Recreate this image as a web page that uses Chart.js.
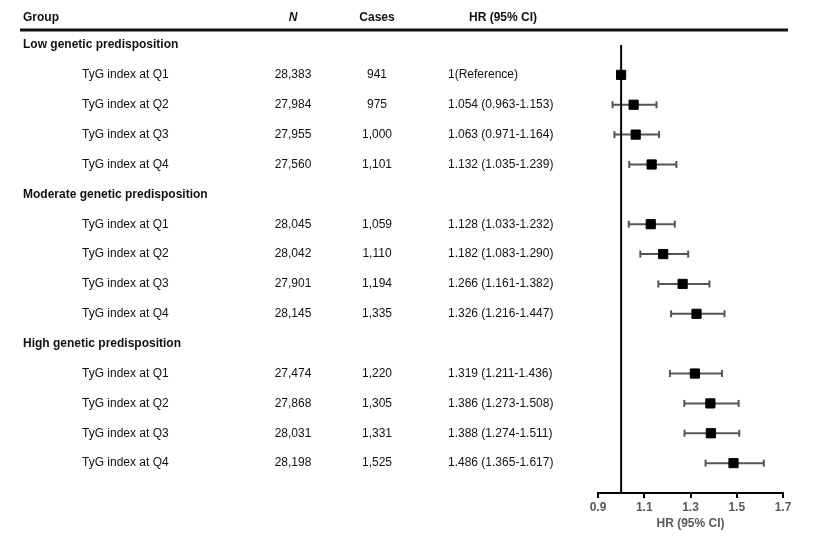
<!DOCTYPE html>
<html>
<head>
<meta charset="utf-8">
<script src="https://cdn.jsdelivr.net/npm/chart.js@4/dist/chart.umd.min.js"></script>
<style>
  body { margin: 0; background: #fff; }
  #wrap { width: 826px; height: 536px; }
</style>
</head>
<body>
<div id="wrap"><canvas id="forest" width="826" height="536"></canvas></div>
<script>
// table data
var groups = ["Low genetic predisposition", "Moderate genetic predisposition", "High genetic predisposition"];
var quartiles = ["TyG index at Q1", "TyG index at Q2", "TyG index at Q3", "TyG index at Q4"];
var nValues = ["28,383", "27,984", "27,955", "27,560", "28,045", "28,042", "27,901", "28,145", "27,474", "27,868", "28,031", "28,198"];
var cases = ["941", "975", "1,000", "1,101", "1,059", "1,110", "1,194", "1,335", "1,220", "1,305", "1,331", "1,525"];
var hr = [1, 1.054, 1.063, 1.132, 1.128, 1.182, 1.266, 1.326, 1.319, 1.386, 1.388, 1.486];
var ciLow = [null, 0.963, 0.971, 1.035, 1.033, 1.083, 1.161, 1.216, 1.211, 1.273, 1.274, 1.365];
var ciHigh = [null, 1.153, 1.164, 1.239, 1.232, 1.290, 1.382, 1.447, 1.436, 1.508, 1.511, 1.617];
var xTicks = [0.9, 1.1, 1.3, 1.5, 1.7];
var headers = ["Group", "N", "Cases", "HR (95% CI)"];

// row index on the y scale: group title then its 4 quartiles
function rowOf(i) {
  var g = Math.floor(i / 4);
  return g * 5 + 1 + (i % 4);
}

var pointData = hr.map((v, i) => ({ x: v, y: rowOf(i) }));

var ciSets = [];
hr.forEach((v, i) => {
  if (ciLow[i] == null) return;
  ciSets.push({
    data: [{ x: ciLow[i], y: rowOf(i) }, { x: ciHigh[i], y: rowOf(i) }],
    showLine: true,
    borderColor: "#555",
    borderWidth: 2,
    pointStyle: "line",
    rotation: 90,
    pointRadius: 3.5,
    pointBorderColor: "#555",
    pointBorderWidth: 2,
    order: 2
  });
});

var tablePlugin = {
  id: "table",
  afterDraw(chart) {
    const ctx = chart.ctx;
    const y = chart.scales.y;
    ctx.save();
    ctx.textBaseline = "middle";
    ctx.fillStyle = "#111";

    // header
    var hy = y.getPixelForValue(-0.9);
    ctx.font = "bold 12px 'Liberation Sans', Arial, sans-serif";
    ctx.textAlign = "left";
    ctx.fillText(headers[0], 23, hy);
    ctx.textAlign = "center";
    ctx.font = "italic bold 12px 'Liberation Sans', Arial, sans-serif";
    ctx.fillText(headers[1], 293, hy);
    ctx.font = "bold 12px 'Liberation Sans', Arial, sans-serif";
    ctx.fillText(headers[2], 377, hy);
    ctx.fillText(headers[3], 503, hy);

    ctx.strokeStyle = "#111";
    ctx.lineWidth = 3;
    var ly = y.getPixelForValue(-0.5);
    ctx.beginPath();
    ctx.moveTo(20, ly);
    ctx.lineTo(788, ly);
    ctx.stroke();

    groups.forEach((g, gi) => {
      ctx.font = "bold 12px 'Liberation Sans', Arial, sans-serif";
      ctx.textAlign = "left";
      ctx.fillText(g, 23, y.getPixelForValue(gi * 5));
    });

    ctx.font = "12px 'Liberation Sans', Arial, sans-serif";
    hr.forEach((v, i) => {
      var py = y.getPixelForValue(rowOf(i));
      ctx.textAlign = "left";
      ctx.fillText(quartiles[i % 4], 82, py);
      ctx.textAlign = "center";
      ctx.fillText(nValues[i], 293, py);
      ctx.fillText(cases[i], 377, py);
      ctx.textAlign = "left";
      var txt = ciLow[i] == null ? "1(Reference)" :
        v.toFixed(3) + " (" + ciLow[i].toFixed(3) + "-" + ciHigh[i].toFixed(3) + ")";
      ctx.fillText(txt, 448, py);
    });
    ctx.restore();
  }
};

new Chart(document.getElementById("forest"), {
  type: "scatter",
  data: {
    datasets: [
      {
        data: pointData,
        pointStyle: "rect",
        pointRadius: 6.5,
        pointBackgroundColor: "#000",
        pointBorderColor: "#000",
        pointBorderWidth: 1,
        order: 0
      },
      {
        data: [{ x: 1, y: 0 }, { x: 1, y: 15 }],
        showLine: true,
        borderColor: "#000",
        borderWidth: 2,
        pointRadius: 0,
        order: 1
      }
    ].concat(ciSets)
  },
  options: {
    responsive: false,
    animation: false,
    layout: { padding: { left: 598, right: 43, top: 45, bottom: 6 } },
    plugins: { legend: { display: false }, tooltip: { enabled: false } },
    scales: {
      x: {
        type: "linear",
        min: 0.9,
        max: 1.7,
        afterBuildTicks(scale) { scale.ticks = xTicks.map(v => ({ value: v })); },
        border: { display: true, color: "#000", width: 2 },
        grid: { drawOnChartArea: false, drawTicks: true, tickLength: 5, color: "#000", lineWidth: 2 },
        ticks: {
          color: "#595959",
          font: { family: "'Liberation Sans', Arial, sans-serif", size: 12, weight: "bold", lineHeight: 1 },
          padding: 4,
          callback: v => v.toFixed(1)
        },
        title: {
          display: true,
          text: "HR (95% CI)",
          color: "#595959",
          font: { family: "'Liberation Sans', Arial, sans-serif", size: 12, weight: "bold", lineHeight: 1 },
          padding: { top: 0, bottom: 0 }
        }
      },
      y: {
        type: "linear",
        reverse: true,
        min: 0,
        max: 15,
        display: false
      }
    }
  },
  plugins: [tablePlugin]
});
</script>
</body>
</html>
